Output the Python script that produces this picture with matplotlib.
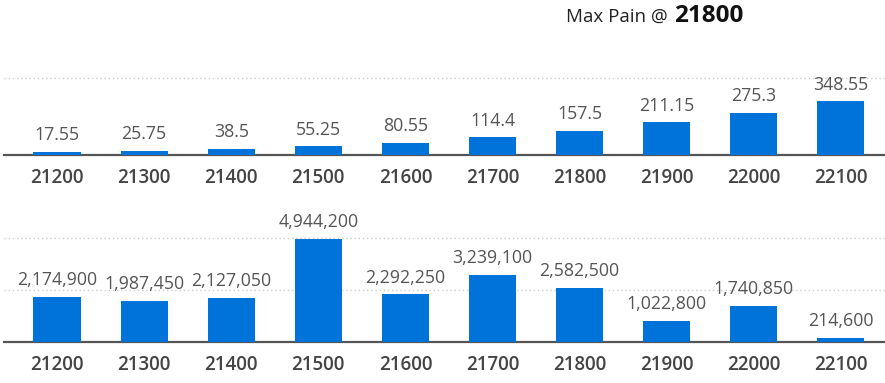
import matplotlib
matplotlib.use("Agg")
import matplotlib.pyplot as plt

plt.rcParams['font.family'] = ['Open Sans', 'DejaVu Sans']

strikes = ["21200", "21300", "21400", "21500", "21600", "21700", "21800", "21900", "22000", "22100"]
top_values = [17.55, 25.75, 38.5, 55.25, 80.55, 114.4, 157.5, 211.15, 275.3, 348.55]
top_labels = ["17.55", "25.75", "38.5", "55.25", "80.55", "114.4", "157.5", "211.15", "275.3", "348.55"]
bottom_values = [2174900, 1987450, 2127050, 4944200, 2292250, 3239100, 2582500, 1022800, 1740850, 214600]
max_pain = "21800"

W, H = 885, 383
fig = plt.figure(figsize=(W / 100, H / 100), dpi=100)
fig.patch.set_facecolor("white")

BAR_COLOR = "#0073DB"
BASE_COLOR = "#555555"
GRID_COLOR = "#cccccc"
LABEL_COLOR = "#555555"
TICK_COLOR = "#444444"

def px_to_fig_y(py):
    return (H - py) / H

left = 4 / W
width = (W - 4) / W
xlim = ((4 - 57) / 87.1, (885 - 57) / 87.1)
x = list(range(len(strikes)))

def setup(ax, values, labels, ylim, grid_vals):
    ax.set_xlim(*xlim)
    ax.set_ylim(*ylim)
    for y in grid_vals:
        ax.axhline(y, color=GRID_COLOR, lw=1.0, ls=(0, (1, 2)), zorder=0)
    ax.bar(x, values, width=0.54, color=BAR_COLOR, zorder=3)
    for xi, v, lab in zip(x, values, labels):
        ax.annotate(lab, (xi, v), xytext=(0, 8.5), textcoords="offset points",
                    ha="center", va="baseline", fontsize=12.8, color=LABEL_COLOR,
                    annotation_clip=False)
    for s in ["top", "right", "left"]:
        ax.spines[s].set_visible(False)
    ax.spines["bottom"].set_color(BASE_COLOR)
    ax.spines["bottom"].set_linewidth(1.6)
    ax.spines["bottom"].set_zorder(2)
    ax.set_yticks([])
    ax.set_xticks(x)
    ax.set_xticklabels(strikes, fontsize=13.5, fontweight="semibold", color=TICK_COLOR)
    ax.tick_params(axis="x", length=0, pad=9.5)
    ax.set_facecolor("none")

# Top chart
ax1 = fig.add_axes([left, px_to_fig_y(155), width, (155 - 60) / H])
setup(ax1, top_values, top_labels, (0, 95 / 0.154), [500])

# Bottom chart
bottom_labels = [f"{v:,}" for v in bottom_values]
ax2 = fig.add_axes([left, px_to_fig_y(342), width, (342 - 230) / H])
setup(ax2, bottom_values, bottom_labels, (0, 112 / 104 * 5000000), [2500000, 5000000])

# Title
fig.text(566 / W, px_to_fig_y(22), "Max Pain @", fontsize=13.5, color="#222222",
         ha="left", va="baseline")
fig.text(674 / W, px_to_fig_y(22), max_pain, fontsize=17.5, fontweight="bold",
         color="#111111", ha="left", va="baseline")

fig.savefig("out.png", dpi=100, facecolor="white")
